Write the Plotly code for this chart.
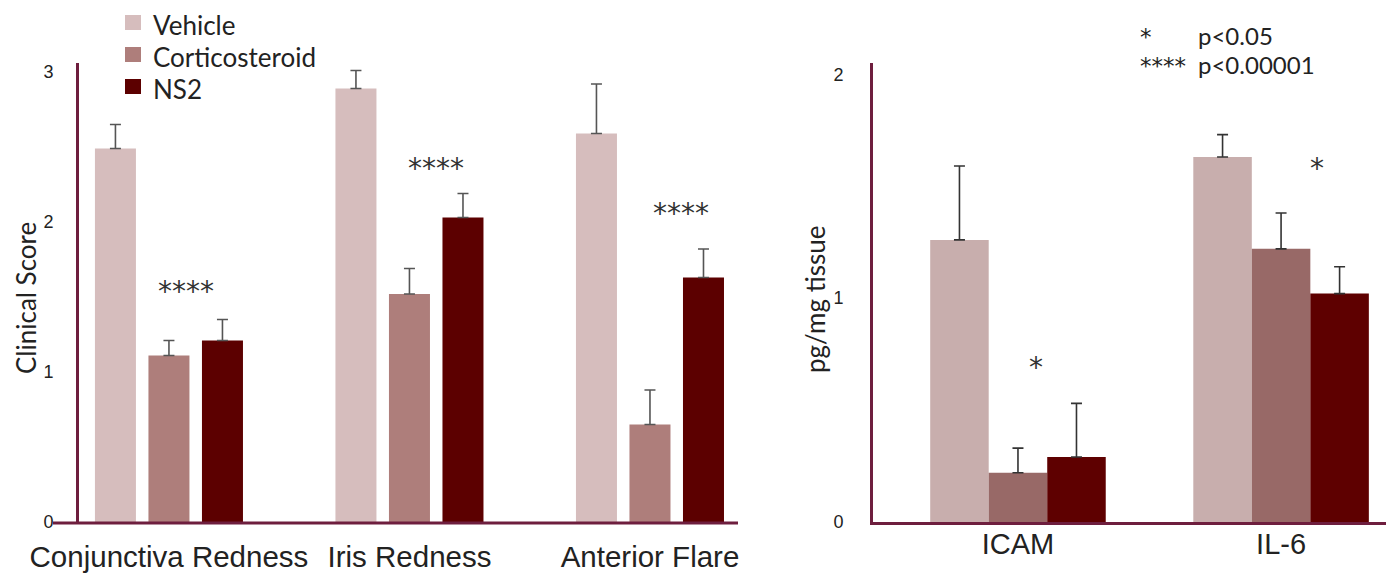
import plotly.graph_objects as go

# ---------------- data ----------------
clin_categories = ["Conjunctiva Redness", "Iris Redness", "Anterior Flare"]
clin_vehicle = [2.49, 2.89, 2.59]
clin_vehicle_err = [0.16, 0.12, 0.33]
clin_cortico = [1.11, 1.52, 0.65]
clin_cortico_err = [0.10, 0.17, 0.23]
clin_ns2 = [1.21, 2.03, 1.63]
clin_ns2_err = [0.14, 0.16, 0.19]
clin_stars = ["****", "****", "****"]

tis_categories = ["ICAM", "IL-6"]
tis_vehicle = [1.26, 1.63]
tis_vehicle_err = [0.33, 0.10]
tis_cortico = [0.22, 1.22]
tis_cortico_err = [0.11, 0.16]
tis_ns2 = [0.29, 1.02]
tis_ns2_err = [0.24, 0.12]
tis_stars = ["*", "*"]

series_names = ["Vehicle", "Corticosteroid", "NS2"]
pvalue_keys = [("*", "p<0.05"), ("****", "p<0.00001")]

# ---------------- style / layout ----------------
# the page body has an 8px margin; figure is sized to fit the window
OFF = 8
W, H = 1394 - OFF, 575 - OFF
PLOT_TOP, PLOT_BOTTOM = 63, 522          # screen px
PLOT_H = PLOT_BOTTOM - PLOT_TOP


def sx(px):
    return (px - OFF) / W


def sy(py):
    return (PLOT_BOTTOM - py) / PLOT_H


AXIS_COLOR = "#6E1E3E"
left_colors = ["#D6BDBD", "#AE7E7B", "#5C0000"]
right_colors = ["#C8AEAD", "#986967", "#5E0000"]
ERR_LEFT = "#555555"
ERR_RIGHT = "#333333"
TXT = "#222222"
STAR_FONT = dict(family="DejaVu Sans", size=28, color="#333333")

# star annotation placement (category offset, value)
clin_star_pos = [(0.07, 1.54), (0.11, 2.36), (0.13, 2.06)]
tis_star_pos = [(0.07, 0.69), (0.135, 1.58)]

lw, lp = 0.1705, 0.2225
left_offsets = [-lp - lw / 2, -lw / 2, lp - lw / 2]
rw = 0.2224
right_offsets = [-rw * 1.5, -rw / 2, rw / 2]

fig = go.Figure()

left_vals = [clin_vehicle, clin_cortico, clin_ns2]
left_errs = [clin_vehicle_err, clin_cortico_err, clin_ns2_err]
for i, name in enumerate(series_names):
    fig.add_trace(go.Bar(
        x=list(range(len(clin_categories))), y=left_vals[i], name=name,
        width=lw, offset=left_offsets[i],
        marker=dict(color=left_colors[i], line=dict(width=0)),
        error_y=dict(type="data", array=left_errs[i], symmetric=False,
                     arrayminus=[0] * len(clin_categories),
                     color=ERR_LEFT, thickness=1.6, width=5.5),
        xaxis="x", yaxis="y", showlegend=False,
    ))

right_vals = [tis_vehicle, tis_cortico, tis_ns2]
right_errs = [tis_vehicle_err, tis_cortico_err, tis_ns2_err]
for i, name in enumerate(series_names):
    fig.add_trace(go.Bar(
        x=list(range(len(tis_categories))), y=right_vals[i], name=name,
        width=rw, offset=right_offsets[i],
        marker=dict(color=right_colors[i], line=dict(width=0)),
        error_y=dict(type="data", array=right_errs[i], symmetric=False,
                     arrayminus=[0] * len(tis_categories),
                     color=ERR_RIGHT, thickness=1.6, width=5.5),
        xaxis="x2", yaxis="y2", showlegend=False,
    ))

annotations = []
shapes = []

for i, s in enumerate(clin_stars):
    dx, yv = clin_star_pos[i]
    annotations.append(dict(x=i + dx, y=yv, xref="x", yref="y",
                            text=s, showarrow=False, font=STAR_FONT))
for i, s in enumerate(tis_stars):
    dx, yv = tis_star_pos[i]
    annotations.append(dict(x=i + dx, y=yv, xref="x2", yref="y2",
                            text=s, showarrow=False, font=STAR_FONT))

title_font = dict(family="Lato", size=26, color=TXT)
annotations.append(dict(x=sx(26), y=sy(298), xref="paper", yref="paper", text="Clinical Score",
                        textangle=-90, showarrow=False, xanchor="center", yanchor="middle",
                        font=title_font))
annotations.append(dict(x=sx(815), y=sy(300), xref="paper", yref="paper", text="pg/mg tissue",
                        textangle=-90, showarrow=False, xanchor="center", yanchor="middle",
                        font=title_font))

# p-value key
key_font = dict(family="Lato", size=24, color=TXT)
key_star = dict(family="DejaVu Sans", size=23, color=TXT)
key_rows = [35, 64]
for (star, label), ry in zip(pvalue_keys, key_rows):
    annotations.append(dict(x=sx(1138), y=sy(ry + 2), xref="paper", yref="paper", text=star,
                            xanchor="left", yanchor="middle", showarrow=False, font=key_star))
    annotations.append(dict(x=sx(1196), y=sy(ry), xref="paper", yref="paper", text=label,
                            xanchor="left", yanchor="middle", showarrow=False, font=key_font))

# legend (drawn as key squares + labels)
legend_rows = [25, 57, 89]
legend_font = dict(family="Lato", size=26, color=TXT)
for name, col, ry in zip(series_names, left_colors, legend_rows):
    shapes.append(dict(type="rect", xref="paper", yref="paper",
                       x0=sx(125), x1=sx(141), y0=sy(ry + 5), y1=sy(ry - 10),
                       fillcolor=col, line=dict(width=0)))
    annotations.append(dict(x=sx(151), y=sy(ry), xref="paper", yref="paper", text=name,
                            xanchor="left", yanchor="middle", showarrow=False,
                            font=legend_font))

# left baseline extends past the y-axis
shapes.append(dict(type="line", xref="paper", yref="paper", x0=sx(53), x1=sx(738),
                   y0=-0.002, y1=-0.002, line=dict(color=AXIS_COLOR, width=3)))

fig.update_layout(
    template="none",
    width=W, height=H,
    margin=dict(l=0, r=0, t=PLOT_TOP - OFF, b=H - (PLOT_BOTTOM - OFF), pad=0),
    paper_bgcolor="white", plot_bgcolor="white",
    barmode="overlay",
    showlegend=False,
    xaxis=dict(domain=[sx(79), sx(738)], range=[-0.374, 2.366], automargin=False,
               tickmode="array", tickvals=list(range(len(clin_categories))),
               ticktext=clin_categories, showline=False, showgrid=False, zeroline=False,
               ticks="", ticklabelstandoff=14,
               tickfont=dict(family="Liberation Sans", size=29.5, color=TXT)),
    yaxis=dict(domain=[0, 1], range=[0, 3.06], tickvals=[0, 1, 2, 3], automargin=False,
               showline=True, linecolor=AXIS_COLOR, linewidth=3, showgrid=False,
               zeroline=False, ticks="", ticklabelstandoff=19,
               tickfont=dict(family="Liberation Sans", size=18, color=TXT)),
    xaxis2=dict(domain=[sx(873), sx(1390)], range=[-0.551, 1.414], anchor="y2",
                automargin=False,
                tickmode="array", tickvals=list(range(len(tis_categories))),
                ticktext=tis_categories, showline=True, linecolor=AXIS_COLOR, linewidth=3,
                showgrid=False, zeroline=False, ticks="", ticklabelstandoff=-6,
                tickfont=dict(family="Liberation Sans", size=29, color=TXT)),
    yaxis2=dict(domain=[0, 1], range=[0, 2.05], anchor="x2", tickvals=[0, 1, 2],
                automargin=False,
                showline=True, linecolor=AXIS_COLOR, linewidth=3, showgrid=False,
                zeroline=False, ticks="", ticklabelstandoff=23,
                tickfont=dict(family="Liberation Sans", size=18, color=TXT)),
    annotations=annotations,
    shapes=shapes,
)

fig.write_html("out.html")
